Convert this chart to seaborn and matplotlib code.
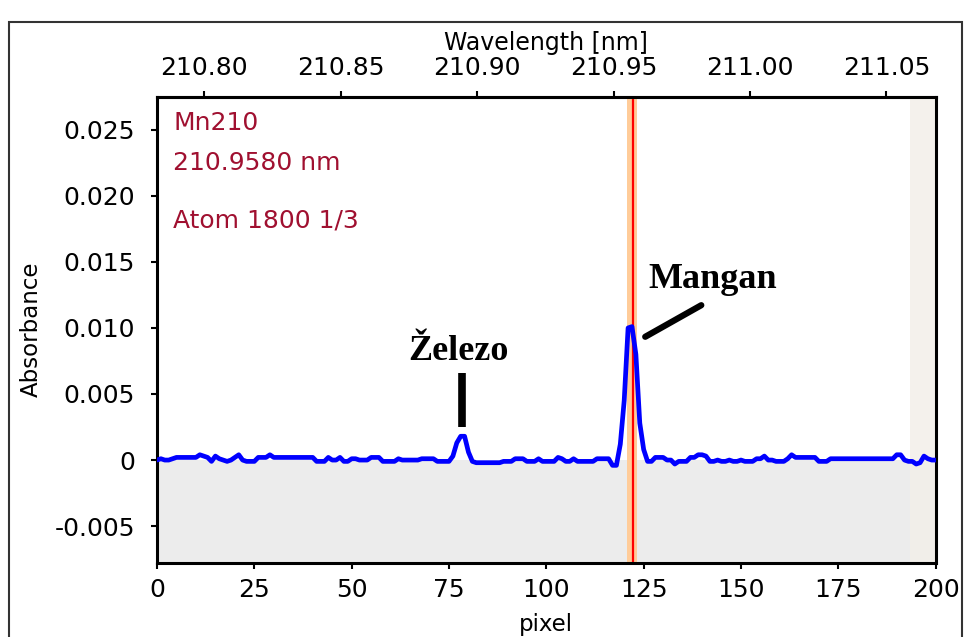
import matplotlib
matplotlib.use("Agg")
import matplotlib.pyplot as plt
import matplotlib.ticker as mticker
from matplotlib.patches import Rectangle
import seaborn as sns

# spectrum: absorbance per detector pixel
pixels = list(range(201))
absorbance = [
    0.0000, 0.0001, 0.0000, 0.0000, 0.0001, 0.0002, 0.0002, 0.0002, 0.0002, 0.0002,
    0.0002, 0.0004, 0.0003, 0.0002, -0.0001, 0.0003, 0.0001, 0.0000, -0.0001, 0.0000,
    0.0002, 0.0004, 0.0000, -0.0001, -0.0001, -0.0001, 0.0002, 0.0002, 0.0002, 0.0004,
    0.0002, 0.0002, 0.0002, 0.0002, 0.0002, 0.0002, 0.0002, 0.0002, 0.0002, 0.0002,
    0.0002, -0.0001, -0.0001, -0.0001, 0.0002, 0.0000, 0.0000, 0.0002, -0.0001, -0.0001,
    0.0001, 0.0001, 0.0000, 0.0000, 0.0000, 0.0002, 0.0002, 0.0002, -0.0001, -0.0001,
    -0.0001, -0.0001, 0.0001, 0.0000, 0.0000, 0.0000, 0.0000, 0.0000, 0.0001, 0.0001,
    0.0001, 0.0001, -0.0001, -0.0001, -0.0001, -0.0001, 0.0003, 0.0013, 0.0018, 0.0018,
    0.0006, -0.0001, -0.0002, -0.0002, -0.0002, -0.0002, -0.0002, -0.0002, -0.0002, -0.0001,
    -0.0001, -0.0001, 0.0001, 0.0001, 0.0001, -0.0001, -0.0001, -0.0001, 0.0001, -0.0001,
    -0.0001, -0.0001, -0.0001, 0.0002, 0.0001, -0.0001, -0.0001, 0.0001, -0.0001, -0.0001,
    -0.0001, -0.0001, -0.0001, 0.0001, 0.0001, 0.0001, 0.0001, -0.0004, -0.0004, 0.0012,
    0.0045, 0.0100, 0.0101, 0.0080, 0.0028, 0.0008, -0.0001, -0.0001, 0.0002, 0.0002,
    0.0002, 0.0000, 0.0000, -0.0003, -0.0001, -0.0001, -0.0001, 0.0002, 0.0002, 0.0004,
    0.0004, 0.0003, -0.0001, -0.0001, 0.0000, -0.0001, -0.0001, 0.0000, -0.0001, -0.0001,
    0.0000, -0.0001, -0.0001, -0.0001, 0.0001, 0.0001, 0.0003, 0.0000, 0.0000, -0.0001,
    -0.0001, -0.0001, 0.0001, 0.0004, 0.0002, 0.0002, 0.0002, 0.0002, 0.0002, 0.0002,
    -0.0001, -0.0001, -0.0001, 0.0001, 0.0001, 0.0001, 0.0001, 0.0001, 0.0001, 0.0001,
    0.0001, 0.0001, 0.0001, 0.0001, 0.0001, 0.0001, 0.0001, 0.0001, 0.0001, 0.0001,
    0.0004, 0.0004, 0.0000, -0.0001, -0.0001, -0.0003, -0.0002, 0.0003, 0.0001, 0.0000,
    0.0000,
]

# wavelength calibration of the pixel axis
nm_start = 210.78265
nm_per_pixel = 0.001427

x_ticks = [0, 25, 50, 75, 100, 125, 150, 175, 200]
y_ticks = [-0.005, 0, 0.005, 0.010, 0.015, 0.020, 0.025]
y_tick_labels = ["-0.005", "0", "0.005", "0.010", "0.015", "0.020", "0.025"]
nm_ticks = [210.80, 210.85, 210.90, 210.95, 211.00, 211.05]

line_pixel = 122.3          # analytical line position
line_window = (120.8, 123.3)
excluded = (193.3, 200)

info_lines = ["Mn210", "210.9580 nm", "Atom 1800 1/3"]

sns.set_style("ticks")
plt.rcParams["font.family"] = ["DejaVu Sans"]
plt.rcParams["text.color"] = "black"
plt.rcParams["axes.labelcolor"] = "black"

fig = plt.figure(figsize=(9.65, 6.37), dpi=100)
ax = fig.add_axes([0.1627, 0.1166, 0.8069, 0.7316])

ax.set_xlim(0, 200)
ax.set_ylim(-0.00777, 0.0275)

# backgrounds
ax.axhspan(-0.00777, 0, color="#ececec", zorder=0, lw=0)
ax.axvspan(*excluded, color="#f3efe9", alpha=0.85, zorder=1, lw=0)
ax.axvspan(*line_window, color="#ffcc99", zorder=1, lw=0)
ax.axvline(line_pixel, color="#ff0000", lw=1.6, zorder=2)

sns.lineplot(x=pixels, y=absorbance, ax=ax, color="#0000ff", lw=3.4,
             estimator=None, zorder=3)

# spines / ticks
for s in ax.spines.values():
    s.set_linewidth(2.2)
    s.set_color("black")
ax.set_xticks(x_ticks)
ax.set_yticks(y_ticks)
ax.set_yticklabels(y_tick_labels)
ax.tick_params(axis="both", direction="out", length=4, width=1.5,
               labelsize=18, colors="black")
ax.tick_params(axis="y", pad=12)
ax.tick_params(axis="x", pad=7)
ax.set_xlabel("pixel", fontsize=16.5, labelpad=8, color="black")
ax.set_ylabel("Absorbance", fontsize=16.5, labelpad=8, color="black")

secax = ax.secondary_xaxis(
    "top",
    functions=(lambda p: nm_start + p * nm_per_pixel,
               lambda w: (w - nm_start) / nm_per_pixel),
)
secax.set_xticks(nm_ticks)
secax.xaxis.set_major_formatter(mticker.FormatStrFormatter("%.2f"))
secax.tick_params(direction="out", length=4, width=1.5, labelsize=18, pad=8,
                  colors="black")
secax.spines["top"].set_linewidth(2.2)
secax.set_xlabel("Wavelength [nm]", fontsize=17, labelpad=4, color="black")

# method info
for txt, yy in zip(info_lines, [0.9436, 0.8577, 0.7354]):
    ax.text(0.0206, yy, txt, transform=ax.transAxes, fontsize=18,
            color="#a01030", va="center", ha="left")

# peak annotations
ax.text(77.4, 0.00756, "Železo", fontsize=26, fontweight="bold",
        family="Liberation Serif", color="black", ha="center", va="baseline",
        zorder=5)
ax.plot([78.3, 78.3], [0.00247, 0.00656], color="black", lw=5.5,
        solid_capstyle="butt", zorder=5)
ax.text(142.7, 0.0130, "Mangan", fontsize=26, fontweight="bold",
        family="Liberation Serif", color="black", ha="center", va="baseline",
        zorder=5)
ax.plot([125.4, 139.8], [0.00933, 0.01172], color="black", lw=4.5,
        solid_capstyle="round", zorder=5)

# outer frame
fig.patches.append(Rectangle((0.0093, -0.02), 0.9876, 0.9855,
                             transform=fig.transFigure, fill=False,
                             edgecolor="#333333", lw=1.5))

fig.savefig("out.png", dpi=100)
